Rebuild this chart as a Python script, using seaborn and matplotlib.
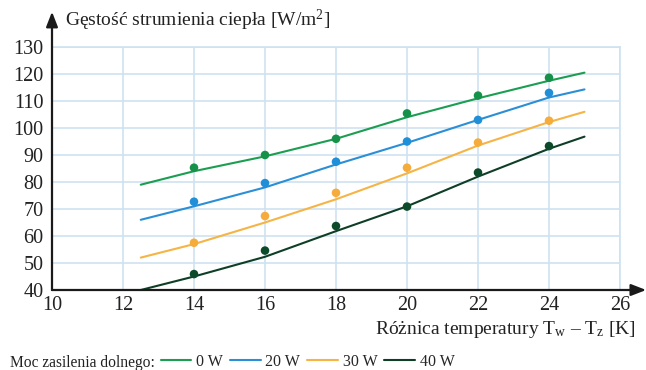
import numpy as np
import pandas as pd
import matplotlib
matplotlib.use("Agg")
import matplotlib.pyplot as plt
import seaborn as sns
from matplotlib.lines import Line2D

# ---- data ----
series = ["0 W", "20 W", "30 W", "40 W"]
point_x = [14, 16, 18, 20, 22, 24]
pts_0w = [85.3, 90, 96, 105.4, 112, 118.6]
pts_20w = [72.7, 79.6, 87.5, 95, 103, 113]
pts_30w = [57.5, 67.4, 76, 85.3, 94.6, 102.7]
pts_40w = [45.9, 54.6, 63.7, 70.9, 83.5, 93.3]

curve_x = [12.5, 14, 16, 18, 20, 22, 24, 25]
curve_0w = [79, 84, 89.5, 96, 104, 111, 117.5, 120.5]
curve_20w = [66, 71, 78, 86.5, 94.5, 103, 111.3, 114.3]
curve_30w = [52, 57, 65, 73.6, 83.2, 93.5, 102.2, 106]
curve_40w = [40, 45, 52.3, 61.8, 71, 82, 92.3, 96.8]

x_ticks = [10, 12, 14, 16, 18, 20, 22, 24, 26]
y_ticks = [40, 50, 60, 70, 80, 90, 100, 110, 120, 130]

colors = {"0 W": "#1c9e52", "20 W": "#2a8fd6", "30 W": "#f6b445", "40 W": "#0e3f26"}
dot_colors = {"0 W": "#15914a", "20 W": "#1f8fd8", "30 W": "#f5ac3a", "40 W": "#0c4a2a"}

pts = pd.DataFrame({
    "x": point_x * 4,
    "y": pts_0w + pts_20w + pts_30w + pts_40w,
    "s": sum([[s] * len(point_x) for s in series], []),
})
crv = pd.DataFrame({
    "x": curve_x * 4,
    "y": curve_0w + curve_20w + curve_30w + curve_40w,
    "s": sum([[s] * len(curve_x) for s in series], []),
})

sns.set_style("white")
plt.rcParams["font.family"] = ["Liberation Serif", "DejaVu Serif"]
plt.rcParams["mathtext.fontset"] = "custom"
plt.rcParams["mathtext.rm"] = "Liberation Serif"
plt.rcParams["mathtext.it"] = "Liberation Serif"

fig = plt.figure(figsize=(6.46, 3.70), dpi=100)
ax = fig.add_axes([52 / 646, 1 - 290 / 370, 568 / 646, 243 / 370])

sns.lineplot(data=crv, x="x", y="y", hue="s", palette=colors, ax=ax,
             linewidth=1.5, legend=False, zorder=3)
sns.scatterplot(data=pts, x="x", y="y", hue="s", palette=dot_colors, ax=ax,
                s=38, edgecolor="none", legend=False, zorder=4)

ax.set_xlim(10, 26)
ax.set_ylim(40, 130)
ax.set_xticks(x_ticks)
ax.set_yticks(y_ticks)
ax.grid(True, color="#cfe2f1", linewidth=1.2)
ax.set_axisbelow(True)
ax.tick_params(axis="x", length=0, labelsize=14.5, pad=4, colors="#222222")
ax.tick_params(axis="y", length=0, labelsize=14.5, pad=6, colors="#222222")
ax.set_xlabel("")
ax.set_ylabel("")
for sp in ["top", "right"]:
    ax.spines[sp].set_color("#cfe2f1")
    ax.spines[sp].set_linewidth(1.2)
for sp in ["left", "bottom"]:
    ax.spines[sp].set_visible(False)

# axis arrows
ax.annotate("", xy=(0, 1.145), xytext=(0, 0), xycoords="axes fraction",
            arrowprops=dict(arrowstyle="-|>,head_length=0.9,head_width=0.35",
                            color="#1a1a1a", lw=1.6, shrinkA=0, shrinkB=0))
ax.annotate("", xy=(1.046, 0), xytext=(0, 0), xycoords="axes fraction",
            arrowprops=dict(arrowstyle="-|>,head_length=0.9,head_width=0.35",
                            color="#1a1a1a", lw=1.6, shrinkA=0, shrinkB=0))

fig.text(65 / 646, 1 - 20 / 370, "Gęstość strumienia ciepła [W/m$^{2}$]",
         fontsize=14, va="center", ha="left", color="#222222")
fig.text(636 / 646, 1 - 329 / 370,
         "Różnica temperatury T$_{\\mathrm{w}}$ – T$_{\\mathrm{z}}$ [K]",
         fontsize=14, va="center", ha="right", color="#222222")

fig.text(10 / 646, 1 - 363 / 370, "Moc zasilenia dolnego:", fontsize=11.2,
         va="center", ha="left", color="#222222")
handles = [Line2D([], [], color=colors[s], lw=1.5) for s in series]
fig.legend(handles, series, loc="center left", bbox_to_anchor=(161 / 646, 1 - 362 / 370),
           ncol=4, frameon=False, fontsize=11.5, handlelength=1.9, handletextpad=0.3,
           columnspacing=0.45, borderaxespad=0, borderpad=0)

fig.savefig("out.png", dpi=100)
